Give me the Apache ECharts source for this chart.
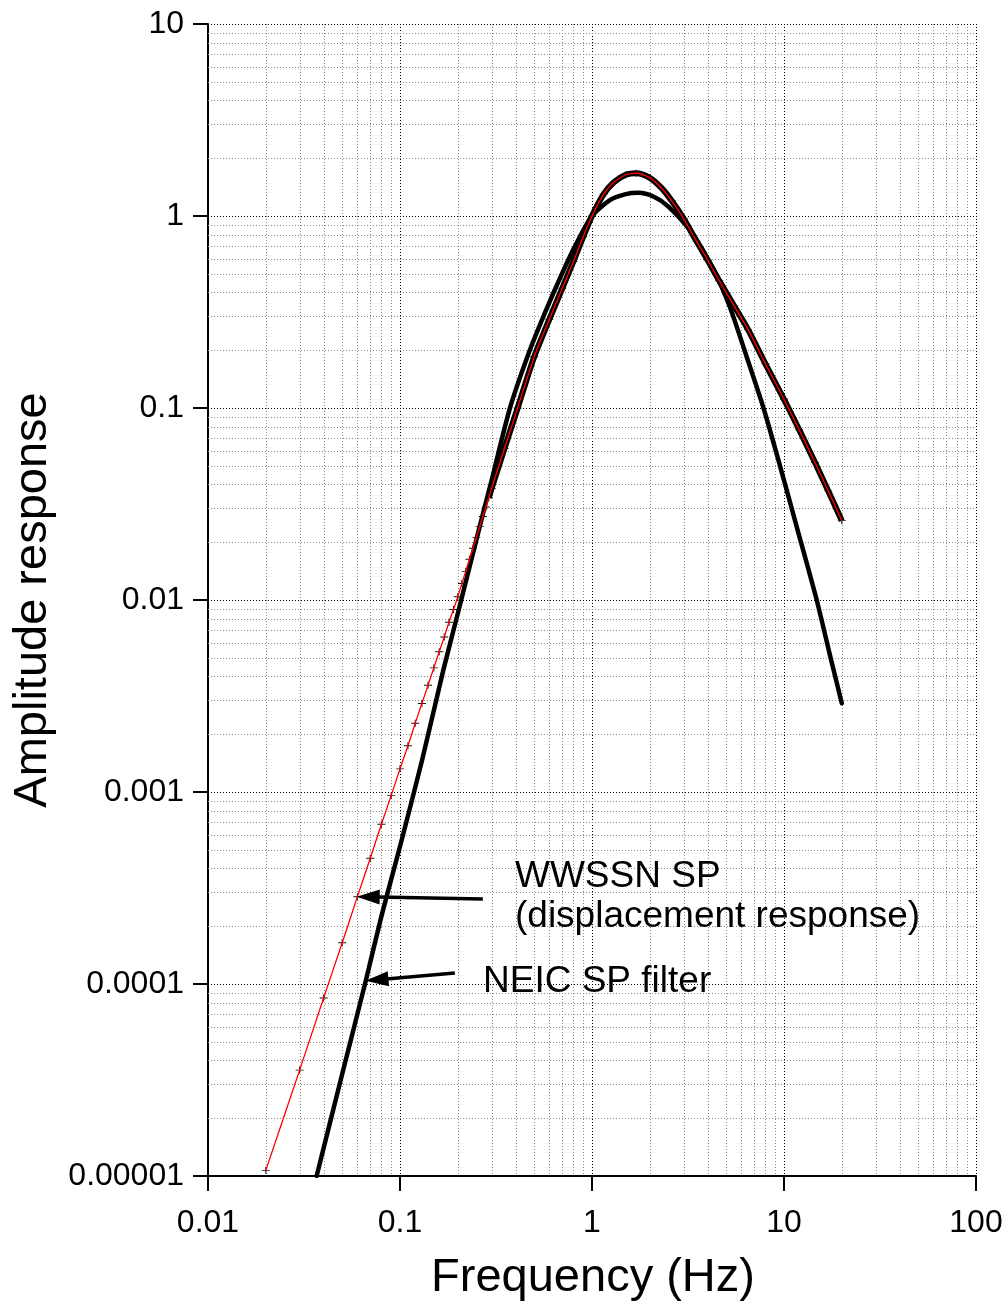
<!DOCTYPE html>
<html><head><meta charset="utf-8">
<script src="https://cdn.jsdelivr.net/npm/echarts@6/dist/echarts.min.js"></script>
<style>html,body{margin:0;padding:0;background:#fff}#c{width:1008px;height:1305px}</style>
</head><body><div id="c"></div>
<script>
// ---- tick labels ----
const xTickLabels = ['0.01', '0.1', '1', '10', '100'];
const yTickLabels = ['0.00001', '0.0001', '0.001', '0.01', '0.1', '1', '10'];
const gridMultipliers = [2, 3, 4, 5, 6, 7, 8, 9];

// ---- WWSSN SP (displacement response) ----
const wwssnFreq = [0.02, 0.03, 0.04, 0.05, 0.06, 0.07, 0.08, 0.09, 0.10, 0.11, 0.12, 0.13, 0.14, 0.15, 0.16, 0.17, 0.18, 0.19, 0.20,
  0.21, 0.22, 0.23, 0.24, 0.25, 0.26, 0.27, 0.28, 0.29, 0.30,
  0.35, 0.41, 0.5, 0.6, 0.7, 0.8, 0.9, 1.0, 1.15, 1.3, 1.5, 1.7, 2.0, 2.3, 2.6, 3.0, 3.5, 4.0, 4.6, 5.5, 6.5, 8.0, 10, 12, 14.5, 17, 20];
const wwssnAmp = [1.07e-5, 3.56e-5, 8.45e-5, 1.64e-4, 2.85e-4, 4.52e-4, 6.79e-4, 9.6e-4, 1.32e-3, 1.74e-3, 2.28e-3, 2.89e-3, 3.6e-3, 4.43e-3, 5.38e-3, 6.41e-3, 7.66e-3, 8.93e-3, 1.04e-2,
  0.0122, 0.0141, 0.0163, 0.0186, 0.0212, 0.0241, 0.0272, 0.0305, 0.0341, 0.0381,
  0.0615, 0.100, 0.185, 0.29, 0.42, 0.58, 0.78, 1.0, 1.3, 1.5, 1.64, 1.67, 1.58, 1.40, 1.2, 0.97, 0.74, 0.59, 0.46, 0.34, 0.256, 0.17, 0.111, 0.077, 0.052, 0.037, 0.0259];

// ---- NEIC SP filter ----
const neicFreq = [0.0368, 0.05, 0.0665, 0.08, 0.1, 0.13, 0.168, 0.2, 0.26, 0.3, 0.374, 0.47, 0.57, 0.71, 0.83, 1.0, 1.24, 1.5, 1.74, 2.1, 2.5, 3.24, 4.28, 5.23, 6.39, 7.82, 9.53, 11.64, 14.8, 17.4, 20];
const neicAmp = [1.0e-5, 3.4e-5, 1.05e-4, 2.25e-4, 5.2e-4, 1.45e-3, 4.3e-3, 8.5e-3, 0.0241, 0.042, 0.1, 0.195, 0.315, 0.52, 0.72, 1.0, 1.21, 1.3, 1.32, 1.26, 1.12, 0.84, 0.53, 0.335, 0.185, 0.10, 0.05, 0.0241, 0.0100, 5.1e-3, 2.9e-3];

// frequency above which the dense markers merge into a solid outline
const outlineFromFreq = 0.29;

// ---- annotations (data coordinates) ----
const annWWSSN = { tail: [0.27, 2.77e-4], tip: [0.0595, 2.85e-4] };
const annNEIC = { tail: [0.193, 1.14e-4], tip: [0.0661, 1.04e-4] };

const FONT = '"Liberation Sans", Arial, Helvetica, sans-serif';

const wwssnData = wwssnFreq.map((f, i) => [f, wwssnAmp[i]]);
const neicData = neicFreq.map((f, i) => [f, neicAmp[i]]);
const outlineData = wwssnData.filter(d => d[0] >= outlineFromFreq);

const xDec = xTickLabels.map(Number);
const yDec = yTickLabels.map(Number);
const gridItems = [];
xDec.forEach((d, i) => {
  if (i > 0) gridItems.push([d, 1, 0, 1]);
  if (i < xDec.length - 1) gridMultipliers.forEach(m => gridItems.push([d * m, 1, 0, 0]));
});
yDec.forEach((d, i) => {
  if (i > 0) gridItems.push([1, d, 1, 1]);
  if (i < yDec.length - 1) gridMultipliers.forEach(m => gridItems.push([1, d * m, 1, 0]));
});

function labelFor(arr, base) {
  return function (v) {
    const k = Math.round(Math.log10(v)) - Math.round(Math.log10(base));
    return arr[k] !== undefined ? arr[k] : '';
  };
}

const SMOOTH = 0.25;
const chart = echarts.init(document.getElementById('c'), null, { renderer: 'canvas' });
const option = {
  animation: false,
  backgroundColor: '#fff',
  grid: { left: 208, right: 32, top: 24, bottom: 129, containLabel: false },
  xAxis: {
    type: 'log', logBase: 10, min: xDec[0], max: xDec[xDec.length - 1],
    axisLine: { show: true, onZero: false, lineStyle: { color: '#000', width: 2 } },
    axisTick: { show: true, length: 15, lineStyle: { color: '#000', width: 2 } },
    axisLabel: { margin: 31, color: '#000', fontSize: 32, fontFamily: FONT, formatter: labelFor(xTickLabels, xDec[0]) },
    splitLine: { show: false }, minorTick: { show: false }
  },
  yAxis: {
    type: 'log', logBase: 10, min: yDec[0], max: yDec[yDec.length - 1],
    axisLine: { show: true, onZero: false, lineStyle: { color: '#000', width: 2 } },
    axisTick: { show: true, length: 15, lineStyle: { color: '#000', width: 2 } },
    axisLabel: { margin: 24, color: '#000', fontSize: 32, fontFamily: FONT, formatter: labelFor(yTickLabels, yDec[0]) },
    splitLine: { show: false }, minorTick: { show: false }
  },
  series: [
    {
      type: 'custom', z: 1, silent: true, data: gridItems, encode: { x: 0, y: 1 },
      renderItem: function (params, api) {
        const cs = params.coordSys;
        const orient = api.value(2), major = api.value(3);
        const p = api.coord([api.value(0), api.value(1)]);
        let shape;
        if (orient === 0) {
          const x = Math.round(p[0]) + 0.5;
          shape = { x1: x, y1: cs.y, x2: x, y2: cs.y + cs.height };
        } else {
          const y = Math.round(p[1]) + 0.5;
          shape = { x1: cs.x, y1: y, x2: cs.x + cs.width, y2: y };
        }
        return { type: 'line', shape: shape, silent: true,
          style: { stroke: major ? '#000' : '#8c8c8c', lineWidth: 1, lineDash: [1, 2] } };
      }
    },
    {
      name: 'NEIC SP filter', type: 'line', z: 3, data: neicData, showSymbol: false,
      smooth: SMOOTH,
      lineStyle: { color: '#000', width: 4.5, join: 'round', cap: 'round' }
    },
    {
      name: 'WWSSN outline', type: 'line', z: 4, data: outlineData, showSymbol: false,
      smooth: SMOOTH,
      lineStyle: { color: '#000', width: 6, join: 'round' }
    },
    {
      name: 'WWSSN markers', type: 'scatter', z: 5, data: wwssnData,
      symbol: 'path://M0,4L8,4M4,0L4,8', symbolSize: [8, 7],
      itemStyle: { color: 'none', borderColor: '#111', borderWidth: 1, opacity: 1 }
    },
    {
      name: 'WWSSN SP', type: 'line', z: 6, data: wwssnData, showSymbol: false,
      smooth: SMOOTH,
      lineStyle: { color: '#ff0000', width: 1.3, join: 'round' }
    }
  ]
};
chart.setOption(option);

function arrowGraphics(ann) {
  const t = chart.convertToPixel({ gridIndex: 0 }, ann.tail);
  const p = chart.convertToPixel({ gridIndex: 0 }, ann.tip);
  const dx = t[0] - p[0], dy = t[1] - p[1];
  const L = Math.sqrt(dx * dx + dy * dy);
  const ux = dx / L, uy = dy / L;
  const headLen = 23, halfW = 7.5;
  const bx = p[0] + ux * headLen, by = p[1] + uy * headLen;
  return [
    { type: 'line', z: 20, shape: { x1: t[0], y1: t[1], x2: bx - ux * 2, y2: by - uy * 2 },
      style: { stroke: '#000', lineWidth: 3.5 } },
    { type: 'polygon', z: 20, shape: { points: [[p[0], p[1]], [bx - uy * halfW, by + ux * halfW], [bx + uy * halfW, by - ux * halfW]] },
      style: { fill: '#000' } }
  ];
}

const graphics = [].concat(
  arrowGraphics(annWWSSN),
  arrowGraphics(annNEIC),
  [
    { type: 'text', z: 20, x: 515, y: 877, style: { text: 'WWSSN SP', font: '37px ' + FONT, fill: '#000', textAlign: 'left', textVerticalAlign: 'middle' } },
    { type: 'text', z: 20, x: 515, y: 917, style: { text: '(displacement response)', font: '37px ' + FONT, fill: '#000', textAlign: 'left', textVerticalAlign: 'middle' } },
    { type: 'text', z: 20, x: 483, y: 982, style: { text: 'NEIC SP filter', font: '37px ' + FONT, fill: '#000', textAlign: 'left', textVerticalAlign: 'middle' } },
    { type: 'text', z: 20, x: 33, y: 600, rotation: Math.PI / 2, style: { text: 'Amplitude response', font: '47px ' + FONT, fill: '#000', textAlign: 'center', textVerticalAlign: 'middle' } },
    { type: 'text', z: 20, x: 593, y: 1278, style: { text: 'Frequency (Hz)', font: '47px ' + FONT, fill: '#000', textAlign: 'center', textVerticalAlign: 'middle' } }
  ]
);
chart.setOption({ graphic: graphics });
</script>
</body></html>
